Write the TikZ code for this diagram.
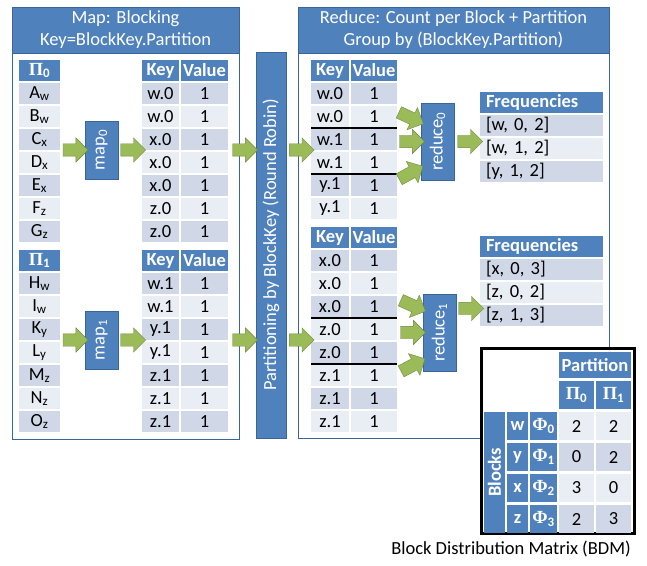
\documentclass[tikz,border=0pt]{standalone}
\usepackage{fontspec}
\setmainfont{Carlito}
\newfontfamily\grkfont{Liberation Serif}
\usetikzlibrary{arrows.meta,positioning,calc,shapes.arrows}
\definecolor{bdmblue}{HTML}{4F81BD}
\definecolor{bdmedge}{HTML}{3A6599}
\definecolor{bdmdark}{HTML}{D0D8E8}
\definecolor{bdmlight}{HTML}{E9EDF4}
\definecolor{bdmgreen}{HTML}{9BBB59}
\definecolor{bdmolive}{HTML}{71893F}
\newcommand{\grk}[2]{{\grkfont\bfseries #1}\textsubscript{#2}}

\begin{document}
\fontsize{18.5bp}{22bp}\selectfont
\begin{tikzpicture}[x=1bp, y=-1bp, >=Latex]
  \tikzstyle{cell}=[inner sep=0, minimum height=21bp]
  \tikzstyle{hd}=[cell, fill=bdmblue, text=white, font=\bfseries]
  \tikzstyle{row0}=[cell, fill=bdmdark]
  \tikzstyle{row1}=[cell, fill=bdmlight]
  \tikzstyle{panelhd}=[draw=bdmedge, fill=bdmblue, text=white, thick, align=center, minimum height=46bp, inner sep=0]
  \tikzstyle{panel}=[draw=bdmedge, fill=white, thick, inner sep=0]
  \tikzstyle{op}=[draw=bdmedge, fill=bdmblue, text=white, thick, inner sep=0]
  \tikzstyle{fat}=[single arrow, draw=bdmolive, fill=bdmgreen, inner xsep=0, inner ysep=6bp, minimum height=25bp, single arrow head extend=6bp, sloped]
  \tikzstyle{sep}=[line width=2bp]
  \useasboundingbox (0,0) rectangle (647,566);

  \node[panelhd, minimum width=227bp] (maphd) at (125.5,30) {Map: Blocking\\Key=BlockKey.Partition};
  \node[panel, minimum width=227bp, minimum height=386bp, below=0pt of maphd] (mapbox) {};
  \node[panelhd, minimum width=311bp] (redhd) at (453.5,30) {Reduce: Count per Block + Partition\\Group by (BlockKey.Partition)};
  \node[panel, minimum width=311bp, minimum height=385bp, below=0pt of redhd] (redbox) {};
  \node[op, minimum width=30bp, minimum height=386bp] (part) at (271,245) {\rotatebox{90}{Partitioning by BlockKey (Round Robin)}};

  \foreach \p/\y/\recs in {0/93.5/{A/w,B/w,C/x,D/x,E/x,F/z,G/z}, 1/283.5/{H/w,I/w,K/y,L/y,M/z,N/z,O/z}} {
    \node[hd, minimum width=41bp] (phd\p) at (39.5,\y-23) {\grk{Π}{\p}};
    \node[hd, minimum width=37bp] (khd\p) at (160.5,\y-23) {Key};
    \node[hd, minimum width=47bp] (vhd\p) at (204.5,\y-23) {Value};
    \foreach \r/\b [count=\i from 0, evaluate=\i as \s using {int(mod(\i,2))}] in \recs {
      \node[row\s, minimum width=41bp] (pi\p\i) at (39.5,\y+23*\i) {\r\textsubscript{\b}};
      \node[row\s, minimum width=37bp] (key\p\i) at (160.5,\y+23*\i) {\b.\p};
      \node[row\s, minimum width=47bp] (val\p\i) at (204.5,\y+23*\i) {1};
    }
    \node[op, minimum width=33bp, minimum height=58bp] (map\p) at (101.5,\y+56.5) {\rotatebox{90}{map\textsubscript{\p}}};
  }

  \foreach \g/\y/\recs in {0/70.5/{w.0,w.0,w.1,w.1,y.1,y.1}, 1/237.5/{x.0,x.0,x.0,z.0,z.0,z.1,z.1,z.1}} {
    \node[hd, minimum width=38bp] (rkhd\g) at (330,\y) {Key};
    \node[hd, minimum width=46bp] (rvhd\g) at (374,\y) {Value};
    \foreach \k [count=\i from 0, evaluate=\i as \s using {int(mod(\i,2))}] in \recs {
      \node[row\s, minimum width=38bp] (rk\g\i) at (330,\y+23+23*\i) {\k};
      \node[row\s, minimum width=46bp] (rv\g\i) at (374,\y+23+23*\i) {1};
    }
  }
  \foreach \g/\i in {0/1, 0/3, 1/2, 1/4}
    \draw[sep] ([yshift=-1bp]rk\g\i.south west) -- ([yshift=-1bp]rv\g\i.south east);

  \node[op, minimum width=33bp, minimum height=77bp] (red0) at (437.5,141.5) {\rotatebox{90}{reduce\textsubscript{0}}};
  \node[op, minimum width=33bp, minimum height=77bp] (red1) at (439.5,332.5) {\rotatebox{90}{reduce\textsubscript{1}}};

  \foreach \g/\y/\recs in {0/102.5/{{[w, 0, 2]},{[w, 1, 2]},{[y, 1, 2]}}, 1/246.5/{{[x, 0, 3]},{[z, 0, 2]},{[z, 1, 3]}}} {
    \node[hd, minimum width=123bp, text width=111bp, align=left] (fhd\g) at (541.5,\y) {Frequencies};
    \foreach \f [count=\i from 0, evaluate=\i as \s using {int(mod(\i,2))}] in \recs
      \node[row\s, minimum width=123bp, text width=111bp, align=left] (fr\g\i) at (541.5,\y+23+23*\i) {\f};
  }

  \foreach \p in {0,1} {
    \path (map\p.west -| pi\p0.east) -- node[fat] (am\p) {} (map\p.west);
    \path (map\p.east) -- node[fat] (ak\p) {} (map\p.east -| key\p0.west);
    \path (map\p.east -| val\p0.east) -- node[fat] (ap\p) {} (map\p.east -| part.west);
    \path (map\p.east -| part.east) -- node[fat] (ar\p) {} (map\p.east -| rk\p0.west);
  }

  \coordinate (in0a) at (396,111);
  \coordinate (in0c) at (396,181);
  \coordinate (in1a) at (398,299);
  \coordinate (in1c) at (398,373);
  \path (in0a) -- node[fat, minimum height=27bp] (b0a) {} ($(red0.west)+(0,-19)$);
  \path (red0.west -| rv00.east) -- node[fat] (b0b) {} (red0.west);
  \path (in0c) -- node[fat, minimum height=27bp] (b0c) {} ($(red0.west)+(0,26)$);
  \path (in1a) -- node[fat, minimum height=27bp] (b1a) {} ($(red1.west)+(0,-22.5)$);
  \path (red1.west -| rv10.east) -- node[fat] (b1b) {} (red1.west);
  \path (in1c) -- node[fat, minimum height=27bp] (b1c) {} ($(red1.west)+(0,27.5)$);

  \coordinate (out1) at ($(red1.east)+(0,-24)$);
  \path (red0.east) -- node[fat] (c0) {} (red0.east -| fhd0.west);
  \path (out1) -- node[fat] (c1) {} (out1 -| fhd1.west);

  \node[draw, line width=3bp, fill=white, minimum width=153bp, minimum height=185bp, inner sep=0] (bdm) at (558,441) {};
  \node[hd, minimum width=72bp, minimum height=26bp] (parthd) at (595,365) {Partition};
  \node[hd, minimum width=35bp, minimum height=28bp] (bp0) at (576.5,395) {\grk{Π}{0}};
  \node[hd, minimum width=35bp, minimum height=28bp] (bp1) at (613.5,395) {\grk{Π}{1}};
  \node[hd, minimum width=21bp, minimum height=121bp] (blocks) at (494.5,472.5) {\rotatebox{90}{Blocks}};
  \foreach \b/\m/\n [count=\i from 0, evaluate=\i as \s using {int(mod(\i+1,2))}] in {w/2/2, y/0/2, x/3/0, z/2/3} {
    \node[hd, minimum width=21bp, minimum height=28bp] (bl\i) at (517.5,426+31*\i) {\b};
    \node[hd, minimum width=27bp, minimum height=28bp] (phi\i) at (543.5,426+31*\i) {\grk{Φ}{\i}};
    \node[row\s, minimum width=35bp, minimum height=28bp] (m\i0) at (576.5,426+31*\i) {\m};
    \node[row\s, minimum width=35bp, minimum height=28bp] (m\i1) at (613.5,426+31*\i) {\n};
  }
  \node (cap) at (511,549) {Block Distribution Matrix (BDM)};
\end{tikzpicture}
\end{document}
